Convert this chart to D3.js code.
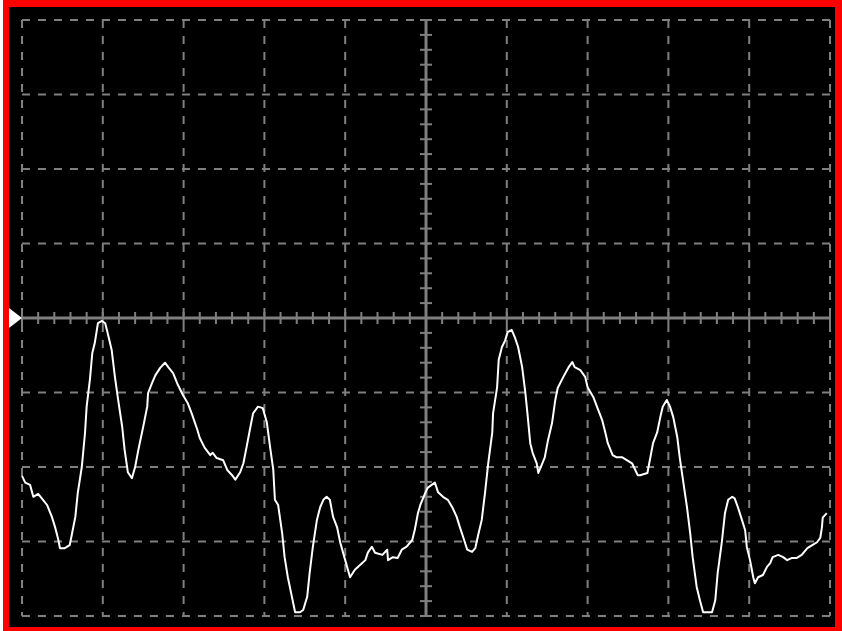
<!DOCTYPE html>
<html>
	<head>
		<meta charset="utf8" />
		<script src="https://cdn.jsdelivr.net/npm/d3@7"></script>
		<style>
			body { margin: 0; background: #fff; }
			svg { display: block; }
		</style>
	</head>
	<body>
		<script>
			var w = 842;
			var h = 631;

			// screen: 10 divisions across, 8 down (1 ms/div, 1 V/div)
			var xDivs = 10;
			var yDivs = 8;

			// trace
			var timeMs = [0.00,0.04,0.10,0.14,0.20,0.26,0.31,0.37,0.41,0.45,0.47,0.53,0.59,0.62,0.66,0.69,0.74,0.78,0.80,0.84,
				0.87,0.90,0.94,0.99,1.03,1.06,1.11,1.15,1.19,1.24,1.27,1.31,1.36,1.40,1.44,1.50,1.55,1.56,1.61,1.65,
				1.71,1.77,1.81,1.87,1.93,1.99,2.05,2.10,2.17,2.20,2.26,2.33,2.36,2.41,2.49,2.54,2.60,2.64,2.70,2.74,
				2.78,2.82,2.86,2.92,2.98,3.03,3.07,3.11,3.13,3.17,3.22,3.25,3.29,3.34,3.38,3.44,3.48,3.53,3.56,3.60,
				3.65,3.69,3.73,3.77,3.81,3.85,3.90,3.94,4.00,4.06,4.12,4.18,4.25,4.28,4.33,4.37,4.46,4.52,4.53,4.59,
				4.65,4.70,4.76,4.83,4.86,4.90,4.93,4.99,5.02,5.07,5.11,5.15,5.21,5.27,5.33,5.38,5.42,5.46,5.51,5.57,
				5.61,5.64,5.69,5.73,5.77,5.82,5.83,5.88,5.90,5.94,5.98,6.01,6.06,6.10,6.14,6.19,6.23,6.26,6.29,6.32,
				6.37,6.39,6.44,6.47,6.51,6.56,6.60,6.63,6.70,6.76,6.81,6.84,6.91,6.97,7.00,7.07,7.13,7.18,7.22,7.25,
				7.31,7.36,7.43,7.49,7.55,7.59,7.62,7.65,7.74,7.77,7.81,7.86,7.90,7.93,7.98,8.02,8.06,8.11,8.14,8.18,
				8.23,8.27,8.30,8.35,8.39,8.43,8.49,8.54,8.58,8.61,8.66,8.70,8.74,8.79,8.82,8.86,8.91,8.95,8.97,9.01,
				9.05,9.07,9.11,9.17,9.22,9.26,9.29,9.36,9.42,9.47,9.53,9.59,9.65,9.72,9.78,9.84,9.88,9.90,9.91,9.96];
			var voltage = [-2.12,-2.21,-2.24,-2.40,-2.36,-2.44,-2.51,-2.67,-2.81,-2.98,-3.09,-3.09,-3.05,-2.89,-2.67,-2.35,-2.00,-1.54,-1.19,-0.83,
				-0.47,-0.34,-0.07,-0.04,-0.07,-0.20,-0.43,-0.79,-1.10,-1.46,-1.77,-2.07,-2.15,-2.00,-1.77,-1.46,-1.19,-1.01,-0.87,-0.77,
				-0.67,-0.60,-0.66,-0.74,-0.90,-1.03,-1.14,-1.28,-1.50,-1.61,-1.74,-1.84,-1.81,-1.88,-1.91,-2.04,-2.11,-2.17,-2.07,-1.95,
				-1.73,-1.50,-1.28,-1.19,-1.21,-1.40,-1.73,-2.04,-2.44,-2.51,-2.89,-3.21,-3.48,-3.74,-3.95,-3.95,-3.92,-3.74,-3.42,-3.07,
				-2.71,-2.54,-2.44,-2.40,-2.44,-2.67,-2.81,-3.02,-3.25,-3.48,-3.38,-3.32,-3.25,-3.15,-3.07,-3.15,-3.18,-3.11,-3.25,-3.21,
				-3.22,-3.11,-3.07,-2.98,-2.85,-2.62,-2.51,-2.35,-2.28,-2.24,-2.21,-2.34,-2.40,-2.44,-2.55,-2.67,-2.81,-2.94,-3.11,-3.14,
				-3.09,-2.94,-2.71,-2.35,-1.95,-1.54,-1.28,-0.93,-0.56,-0.39,-0.30,-0.19,-0.16,-0.26,-0.39,-0.66,-1.01,-1.33,-1.68,-1.81,
				-1.95,-2.08,-1.95,-1.87,-1.64,-1.41,-1.10,-0.94,-0.79,-0.67,-0.59,-0.66,-0.70,-0.79,-0.93,-1.06,-1.23,-1.37,-1.54,-1.68,
				-1.84,-1.87,-1.87,-1.91,-1.95,-2.04,-2.11,-2.11,-2.08,-1.91,-1.68,-1.54,-1.33,-1.19,-1.10,-1.19,-1.33,-1.60,-1.87,-2.17,
				-2.54,-2.89,-3.21,-3.61,-3.79,-3.95,-3.95,-3.95,-3.79,-3.42,-3.02,-2.62,-2.44,-2.40,-2.42,-2.54,-2.71,-2.85,-3.07,-3.25,
				-3.48,-3.56,-3.48,-3.45,-3.34,-3.29,-3.21,-3.18,-3.21,-3.25,-3.22,-3.22,-3.18,-3.09,-3.05,-3.01,-2.95,-2.81,-2.68,-2.62];

			var x = d3.scaleLinear().domain([0, xDivs]).range([22, 830]);
			var y = d3.scaleLinear().domain([-yDivs / 2, yDivs / 2]).range([616, 20]);

			var gridCol = "#7f7f7f";

			var svg = d3.select("body")
						.append("svg")
						.attr("width", w)
						.attr("height", h);

			// red frame + black screen
			svg.append("rect")
			   .attr("x", 3).attr("y", 0)
			   .attr("width", w - 3).attr("height", h)
			   .attr("fill", "#ff0000");
			svg.append("rect")
			   .attr("x", 9).attr("y", 7)
			   .attr("width", 826).attr("height", 620)
			   .attr("fill", "#000");

			// dashed graticule (skip the centre lines, drawn solid below)
			svg.selectAll("line.vgrid")
			   .data(d3.range(0, xDivs + 1).filter(function(d) { return d != xDivs / 2; }))
			   .enter()
			   .append("line")
			   .attr("class", "vgrid")
			   .attr("x1", function(d) { return x(d); })
			   .attr("x2", function(d) { return x(d); })
			   .attr("y1", y(yDivs / 2))
			   .attr("y2", y(-yDivs / 2))
			   .attr("stroke", gridCol)
			   .attr("stroke-width", 2)
			   .attr("stroke-dasharray", "8,8");

			svg.selectAll("line.hgrid")
			   .data(d3.range(-yDivs / 2, yDivs / 2 + 1).filter(function(d) { return d != 0; }))
			   .enter()
			   .append("line")
			   .attr("class", "hgrid")
			   .attr("x1", x(0))
			   .attr("x2", x(xDivs))
			   .attr("y1", function(d) { return y(d); })
			   .attr("y2", function(d) { return y(d); })
			   .attr("stroke", gridCol)
			   .attr("stroke-width", 2)
			   .attr("stroke-dasharray", "8,8");

			// centre axes
			svg.append("line")
			   .attr("x1", x(0)).attr("x2", x(xDivs))
			   .attr("y1", y(0)).attr("y2", y(0))
			   .attr("stroke", gridCol).attr("stroke-width", 3);
			svg.append("line")
			   .attr("x1", x(xDivs / 2)).attr("x2", x(xDivs / 2))
			   .attr("y1", y(yDivs / 2)).attr("y2", y(-yDivs / 2))
			   .attr("stroke", gridCol).attr("stroke-width", 3);

			// minor ticks, 5 per division
			svg.selectAll("line.xtick")
			   .data(d3.range(0, xDivs * 5 + 1).map(function(i) { return i / 5; }))
			   .enter()
			   .append("line")
			   .attr("class", "xtick")
			   .attr("x1", function(d) { return x(d); })
			   .attr("x2", function(d) { return x(d); })
			   .attr("y1", y(0) - 6)
			   .attr("y2", y(0) + 6)
			   .attr("stroke", gridCol)
			   .attr("stroke-width", 2);

			svg.selectAll("line.ytick")
			   .data(d3.range(0, yDivs * 5 + 1).map(function(i) { return i / 5 - yDivs / 2; }))
			   .enter()
			   .append("line")
			   .attr("class", "ytick")
			   .attr("x1", x(xDivs / 2) - 6)
			   .attr("x2", x(xDivs / 2) + 6)
			   .attr("y1", function(d) { return y(d); })
			   .attr("y2", function(d) { return y(d); })
			   .attr("stroke", gridCol)
			   .attr("stroke-width", 2);

			// ground marker
			svg.append("path")
			   .attr("d", "M9," + (y(0) - 10) + "L" + x(0) + "," + y(0) + "L9," + (y(0) + 10) + "Z")
			   .attr("fill", "#fff");

			// trace
			var line = d3.line()
						 .x(function(d, i) { return x(timeMs[i]); })
						 .y(function(d) { return y(d); });

			svg.append("path")
			   .datum(voltage)
			   .attr("d", line)
			   .attr("fill", "none")
			   .attr("stroke", "#fff")
			   .attr("stroke-width", 2)
			   .attr("stroke-linejoin", "round");
		</script>
	</body>
</html>
